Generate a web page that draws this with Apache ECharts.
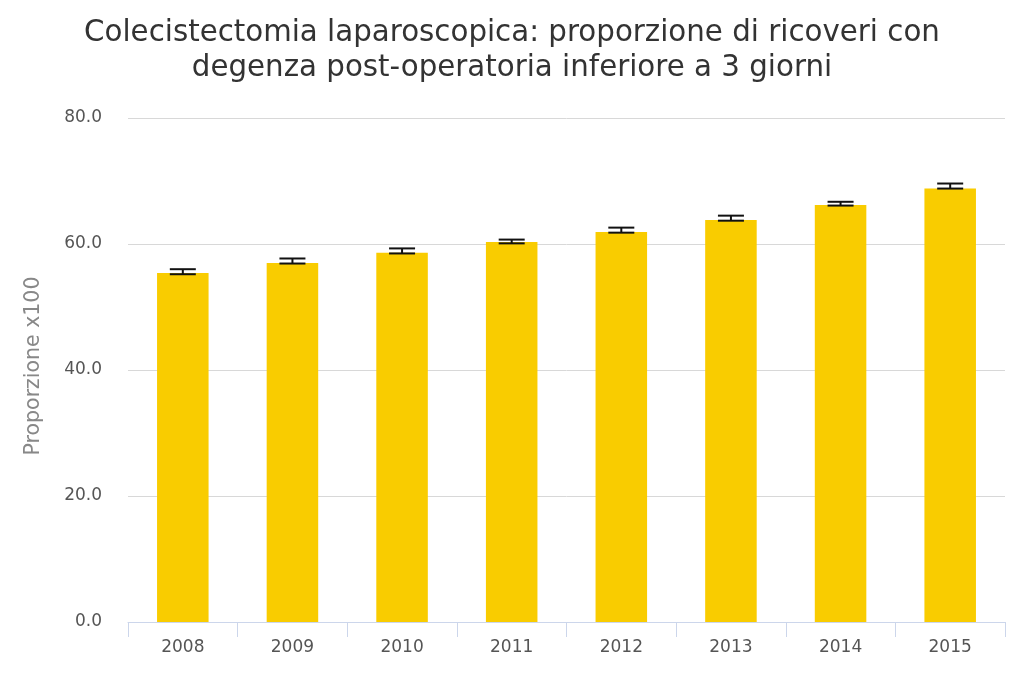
<!DOCTYPE html>
<html><head><meta charset="utf-8">
<script src="https://cdn.jsdelivr.net/npm/echarts@6/dist/echarts.min.js"></script>
<style>html,body{margin:0;padding:0;background:#fff}#c{width:1024px;height:683px}</style>
</head><body><div id="c"></div>
<script>
const years = ['2008','2009','2010','2011','2012','2013','2014','2015'];
const values = [55.4, 57.0, 58.6, 60.3, 61.9, 63.8, 66.2, 68.8];
const lower = [55.2, 56.9, 58.5, 60.1, 61.8, 63.7, 66.1, 68.8];
const upper = [56.0, 57.7, 59.3, 60.7, 62.6, 64.5, 66.7, 69.6];
const yTicks = [0, 20, 40, 60, 80];
const FF = "'DejaVu Sans', Verdana, sans-serif";

const chart = echarts.init(document.getElementById('c'));
chart.setOption({
  animation: false,
  title: {
    text: 'Colecistectomia laparoscopica: proporzione di ricoveri con\ndegenza post-operatoria inferiore a 3 giorni',
    left: 'center', top: 11,
    textStyle: {fontFamily: FF, fontSize: 29.3, fontWeight: 'normal', color: '#333', lineHeight: 35}
  },
  grid: {left: 128, right: 19, top: 118, bottom: 61, containLabel: false},
  xAxis: {
    type: 'category', data: years,
    axisLine: {lineStyle: {color: '#ccd6eb'}},
    axisTick: {show: true, length: 15, lineStyle: {color: '#ccd6eb'}},
    axisLabel: {color: '#555', fontSize: 17, fontFamily: FF, margin: 17}
  },
  yAxis: {
    type: 'value', min: yTicks[0], max: yTicks[yTicks.length-1], interval: 20,
    name: 'Proporzione x100', nameLocation: 'middle', nameGap: 84,
    nameTextStyle: {color: '#888', fontSize: 20.5, fontFamily: FF, padding: [0, 0, 0, 8]},
    axisLine: {show: false}, axisTick: {show: false},
    splitLine: {lineStyle: {color: '#d8d8d8'}},
    axisLabel: {color: '#555', fontSize: 17, fontFamily: FF, margin: 26, formatter: v => v.toFixed(1)}
  },
  series: [
    {type: 'bar', data: values, barWidth: '47%', itemStyle: {color: '#F9CC00'}},
    {
      type: 'custom', z: 10,
      data: years.map((y, i) => [i, lower[i], upper[i]]),
      renderItem: function (params, api) {
        const x = api.value(0);
        const lo = api.coord([x, api.value(1)]);
        const hi = api.coord([x, api.value(2)]);
        const hw = 13;
        const style = {stroke: '#111', lineWidth: 2};
        return {type: 'group', children: [
          {type: 'line', shape: {x1: lo[0], y1: lo[1], x2: hi[0], y2: hi[1]}, style},
          {type: 'line', shape: {x1: lo[0]-hw, y1: lo[1], x2: lo[0]+hw, y2: lo[1]}, style},
          {type: 'line', shape: {x1: hi[0]-hw, y1: hi[1], x2: hi[0]+hw, y2: hi[1]}, style}
        ]};
      }
    }
  ]
});
</script></body></html>
